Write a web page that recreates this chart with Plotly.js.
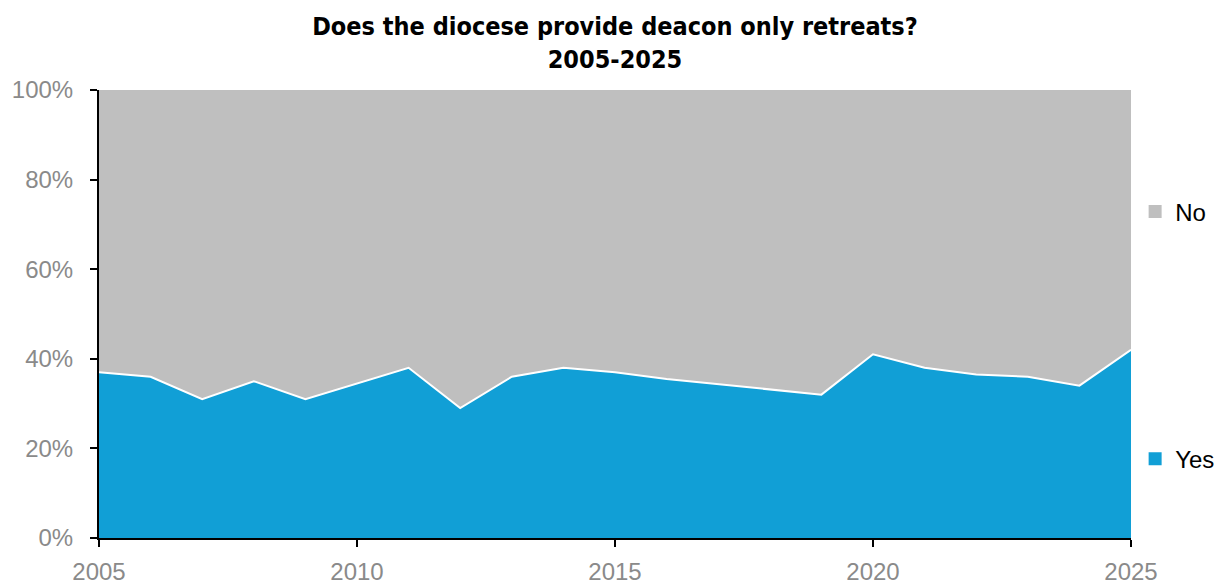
<!DOCTYPE html>
<html>
<head>
<meta charset="utf-8">
<script src="https://cdn.plot.ly/plotly-3.0.1.min.js"></script>
<style>html,body{margin:0;padding:0;background:#fff;}#chart{width:1225px;height:586px;}</style>
</head>
<body>
<div id="chart"></div>
<script>
const years = [2005,2006,2007,2008,2009,2010,2011,2012,2013,2014,2015,2016,2017,2018,2019,2020,2021,2022,2023,2024,2025];
const yesPct = [37,36,31,35,31,34.5,38,29,36,38,37,35.5,34.3,33.2,32,41,38,36.5,36,34,42];
const noPct = yesPct.map(v => 100 - v);
const seriesNames = ['Yes','No'];
const yTickVals = [0,20,40,60,80,100];
const yTickText = ['0%','20%','40%','60%','80%','100%'];
const xTickVals = [2005,2010,2015,2020,2025];

const blue = '#119FD6';
const grey = '#BFBFBF';
const tickFont = {family:'Liberation Sans, Arial, sans-serif', size:24, color:'#8A8A8A'};

const traces = [
  {x: years, y: yesPct, name: seriesNames[0], type:'scatter', mode:'lines', stackgroup:'one',
   fillcolor: blue, line:{color:'#FFFFFF', width:2}, showlegend:false, hoverinfo:'x+y'},
  {x: years, y: noPct, name: seriesNames[1], type:'scatter', mode:'lines', stackgroup:'one',
   fillcolor: grey, line:{color:'rgba(255,255,255,0)', width:0}, showlegend:false, hoverinfo:'x+y'},
  {x:[null], y:[null], name: seriesNames[1], type:'scatter', mode:'markers',
   marker:{symbol:'square', size:13, color:grey}, legend:'legend'},
  {x:[null], y:[null], name: seriesNames[0], type:'scatter', mode:'markers',
   marker:{symbol:'square', size:13, color:blue}, legend:'legend2'}
];

const legendCommon = {x:1.004, xanchor:'left', yanchor:'middle', bgcolor:'rgba(0,0,0,0)',
  font:{family:'Liberation Sans, Arial, sans-serif', size:24, color:'#000'}, itemwidth:30, tracegroupgap:0};

const layout = {
  width:1225, height:586,
  margin:{l:99, r:94, t:90, b:48, autoexpand:false},
  paper_bgcolor:'#fff', plot_bgcolor:'#fff',
  title:{text:'<b>Does the diocese provide deacon only retreats?<br>2005-2025</b>',
    font:{family:'Liberation Sans Narrow, DejaVu Sans Condensed, Arial Narrow, sans-serif', size:25, color:'#000'},
    x:0.5, xanchor:'center', y:0.94, yanchor:'top', xref:'paper'},
  xaxis:{range:[2005,2025], tickvals:xTickVals, ticktext:xTickVals.map(String), showgrid:false, zeroline:false,
    showline:true, linecolor:'#000', linewidth:2, ticks:'outside', ticklen:7, tickwidth:2, tickcolor:'#000',
    tickfont:tickFont, ticklabelstandoff:4, fixedrange:true},
  yaxis:{range:[0,100], tickvals:yTickVals, ticktext:yTickText, showgrid:false, zeroline:false,
    showline:true, linecolor:'#000', linewidth:2, ticks:'outside', ticklen:7, tickwidth:2, tickcolor:'#000',
    tickfont:tickFont, ticklabelstandoff:12, fixedrange:true},
  legend: Object.assign({y:0.728}, legendCommon),
  legend2: Object.assign({y:0.176}, legendCommon),
  showlegend:true
};

Plotly.newPlot('chart', traces, layout, {displayModeBar:false, staticPlot:true});
</script>
</body>
</html>
